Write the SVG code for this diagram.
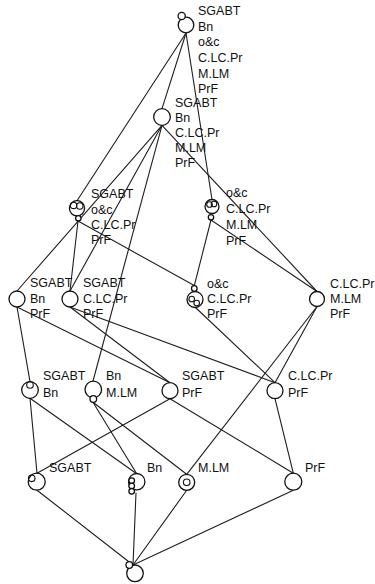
<svg xmlns="http://www.w3.org/2000/svg" width="375" height="584" viewBox="0 0 375 584">
  <style>
    .bg { fill: #ffffff; }
    .edge { stroke: #1e1e1e; stroke-width: 1.1; fill: none; stroke-linecap: round; }
    .ring { stroke: #111111; stroke-width: 1.3; fill: #ffffff; }
    .mark { stroke: #111111; stroke-width: 1.1; fill: none; }
    .lbl { font-family: "Liberation Sans", Arial, sans-serif; font-size: 12.5px; fill: #111111; }
  </style>
  <rect class="bg" x="0" y="0" width="375" height="584"/>

  <!-- covering relations of the lattice -->
  <g id="connectors">
    <line class="edge" x1="186" y1="33" x2="162" y2="108.7"/>
    <line class="edge" x1="186" y1="33" x2="77" y2="200.7"/>
    <line class="edge" x1="186" y1="33" x2="212" y2="199.5"/>
    <line class="edge" x1="162" y1="125.3" x2="17" y2="291"/>
    <line class="edge" x1="162" y1="125.3" x2="70" y2="291"/>
    <line class="edge" x1="162" y1="125.3" x2="317" y2="291.5"/>
    <line class="edge" x1="162" y1="125.3" x2="93" y2="381"/>
    <line class="edge" x1="78" y1="221" x2="70" y2="291"/>
    <line class="edge" x1="78" y1="221" x2="194.3" y2="285.6"/>
    <line class="edge" x1="211" y1="220" x2="194.3" y2="285.6"/>
    <line class="edge" x1="211" y1="220" x2="317" y2="291.5"/>
    <line class="edge" x1="17" y1="307" x2="30" y2="381.7"/>
    <line class="edge" x1="17" y1="307" x2="170" y2="382.7"/>
    <line class="edge" x1="70" y1="307" x2="170" y2="382.7"/>
    <line class="edge" x1="70" y1="307" x2="275" y2="382.7"/>
    <line class="edge" x1="196" y1="308" x2="275" y2="382.7"/>
    <line class="edge" x1="317" y1="306.5" x2="275" y2="382.7"/>
    <line class="edge" x1="317" y1="306.5" x2="186.7" y2="474.3"/>
    <line class="edge" x1="30" y1="398.3" x2="37" y2="473.2"/>
    <line class="edge" x1="30" y1="398.3" x2="136.7" y2="473.7"/>
    <line class="edge" x1="93" y1="402.3" x2="136.7" y2="473.7"/>
    <line class="edge" x1="93" y1="402.3" x2="186.7" y2="474.3"/>
    <line class="edge" x1="170" y1="398.7" x2="37" y2="473.2"/>
    <line class="edge" x1="170" y1="398.7" x2="293.3" y2="473.2"/>
    <line class="edge" x1="275" y1="398.7" x2="293.3" y2="473.2"/>
    <line class="edge" x1="37" y1="490.2" x2="133" y2="565"/>
    <line class="edge" x1="136" y1="493" x2="133" y2="565"/>
    <line class="edge" x1="186.7" y1="490.3" x2="133" y2="565"/>
    <line class="edge" x1="293.3" y1="490.2" x2="133" y2="565"/>
  </g>

  <!-- top concept -->
  <g id="n-top">
    <circle class="ring" cx="186" cy="25" r="7.8"/>
    <circle class="ring" cx="181.7" cy="16" r="3.6"/>
    <text class="lbl" x="198" y="15">SGABT</text>
    <text class="lbl" x="198" y="30.5">Bn</text>
    <text class="lbl" x="198" y="46">o&amp;c</text>
    <text class="lbl" x="198" y="62">C.LC.Pr</text>
    <text class="lbl" x="198" y="77.5">M.LM</text>
    <text class="lbl" x="198" y="92.5">PrF</text>
  </g>

  <g id="n-sgabt-bn-clcpr-mlm-prf">
    <circle class="ring" cx="162" cy="117" r="8.3"/>
    <text class="lbl" x="175" y="107">SGABT</text>
    <text class="lbl" x="175" y="122">Bn</text>
    <text class="lbl" x="175" y="137">C.LC.Pr</text>
    <text class="lbl" x="175" y="152">M.LM</text>
    <text class="lbl" x="175" y="167">PrF</text>
  </g>

  <g id="n-sgabt-oc-clcpr-prf">
    <circle class="ring" cx="77" cy="208.3" r="7.6"/>
    <circle class="mark" cx="73.6" cy="205.4" r="3.2"/>
    <circle class="mark" cx="79.8" cy="206" r="3.2"/>
    <circle class="ring" cx="78.3" cy="218.3" r="2.7"/>
    <text class="lbl" x="91" y="198">SGABT</text>
    <text class="lbl" x="91" y="214">o&amp;c</text>
    <text class="lbl" x="91" y="229">C.LC.Pr</text>
    <text class="lbl" x="91" y="244">PrF</text>
  </g>

  <g id="n-oc-clcpr-mlm-prf">
    <circle class="ring" cx="212" cy="206.5" r="7"/>
    <circle class="mark" cx="209.5" cy="204.5" r="2.8"/>
    <circle class="mark" cx="214" cy="204" r="2.8"/>
    <circle class="ring" cx="211" cy="217.3" r="2.7"/>
    <text class="lbl" x="226" y="197">o&amp;c</text>
    <text class="lbl" x="226" y="213">C.LC.Pr</text>
    <text class="lbl" x="226" y="229">M.LM</text>
    <text class="lbl" x="226" y="245">PrF</text>
  </g>

  <g id="n-sgabt-bn-prf">
    <circle class="ring" cx="17" cy="299" r="8"/>
    <text class="lbl" x="30" y="287">SGABT</text>
    <text class="lbl" x="30" y="303">Bn</text>
    <text class="lbl" x="30" y="318">PrF</text>
  </g>

  <g id="n-sgabt-clcpr-prf">
    <circle class="ring" cx="70" cy="299" r="8"/>
    <text class="lbl" x="83" y="287">SGABT</text>
    <text class="lbl" x="83" y="303">C.LC.Pr</text>
    <text class="lbl" x="83" y="318">PrF</text>
  </g>

  <g id="n-oc-clcpr-prf">
    <circle class="ring" cx="195" cy="299.5" r="8"/>
    <circle class="mark" cx="191.7" cy="299" r="2.8"/>
    <circle class="mark" cx="196.7" cy="303" r="2.8"/>
    <circle class="ring" cx="194.3" cy="288.5" r="2.8"/>
    <text class="lbl" x="207" y="288">o&amp;c</text>
    <text class="lbl" x="207" y="303">C.LC.Pr</text>
    <text class="lbl" x="207" y="318">PrF</text>
  </g>

  <g id="n-clcpr-mlm-prf">
    <circle class="ring" cx="317" cy="299" r="7.5"/>
    <text class="lbl" x="330" y="288">C.LC.Pr</text>
    <text class="lbl" x="330" y="303">M.LM</text>
    <text class="lbl" x="330" y="318">PrF</text>
  </g>

  <g id="n-sgabt-bn">
    <circle class="ring" cx="30" cy="390" r="8.3"/>
    <circle class="mark" cx="30" cy="385" r="3.3"/>
    <text class="lbl" x="43" y="380">SGABT</text>
    <text class="lbl" x="43" y="396.5">Bn</text>
  </g>

  <g id="n-bn-mlm">
    <circle class="ring" cx="93.3" cy="389.5" r="8.3"/>
    <circle class="ring" cx="93.3" cy="399" r="3.3"/>
    <text class="lbl" x="106" y="380">Bn</text>
    <text class="lbl" x="106" y="396.5">M.LM</text>
  </g>

  <g id="n-sgabt-prf">
    <circle class="ring" cx="170" cy="390.7" r="8"/>
    <text class="lbl" x="182" y="380">SGABT</text>
    <text class="lbl" x="182" y="396.5">PrF</text>
  </g>

  <g id="n-clcpr-prf">
    <circle class="ring" cx="275" cy="390.7" r="8"/>
    <text class="lbl" x="288" y="380">C.LC.Pr</text>
    <text class="lbl" x="288" y="396.5">PrF</text>
  </g>

  <g id="n-sgabt">
    <circle class="ring" cx="36.7" cy="481.7" r="8.5"/>
    <circle class="mark" cx="31.7" cy="478.3" r="3.3"/>
    <text class="lbl" x="49" y="472">SGABT</text>
  </g>

  <g id="n-bn">
    <circle class="ring" cx="136.7" cy="481.7" r="8.2"/>
    <circle class="ring" cx="131.7" cy="480.7" r="2.8"/>
    <circle class="ring" cx="131.7" cy="486" r="2.8"/>
    <circle class="ring" cx="131.7" cy="491.3" r="2.8"/>
    <text class="lbl" x="147" y="472">Bn</text>
  </g>

  <g id="n-mlm">
    <circle class="ring" cx="186.7" cy="482.3" r="8"/>
    <circle class="mark" cx="186.7" cy="482.3" r="3.3"/>
    <text class="lbl" x="198" y="472">M.LM</text>
  </g>

  <g id="n-prf">
    <circle class="ring" cx="293.3" cy="481.7" r="8.5"/>
    <text class="lbl" x="305" y="472">PrF</text>
  </g>

  <!-- bottom concept -->
  <g id="n-bottom">
    <circle class="ring" cx="135" cy="573.3" r="8.3"/>
    <circle class="ring" cx="129.3" cy="565" r="3.3"/>
  </g>
</svg>
